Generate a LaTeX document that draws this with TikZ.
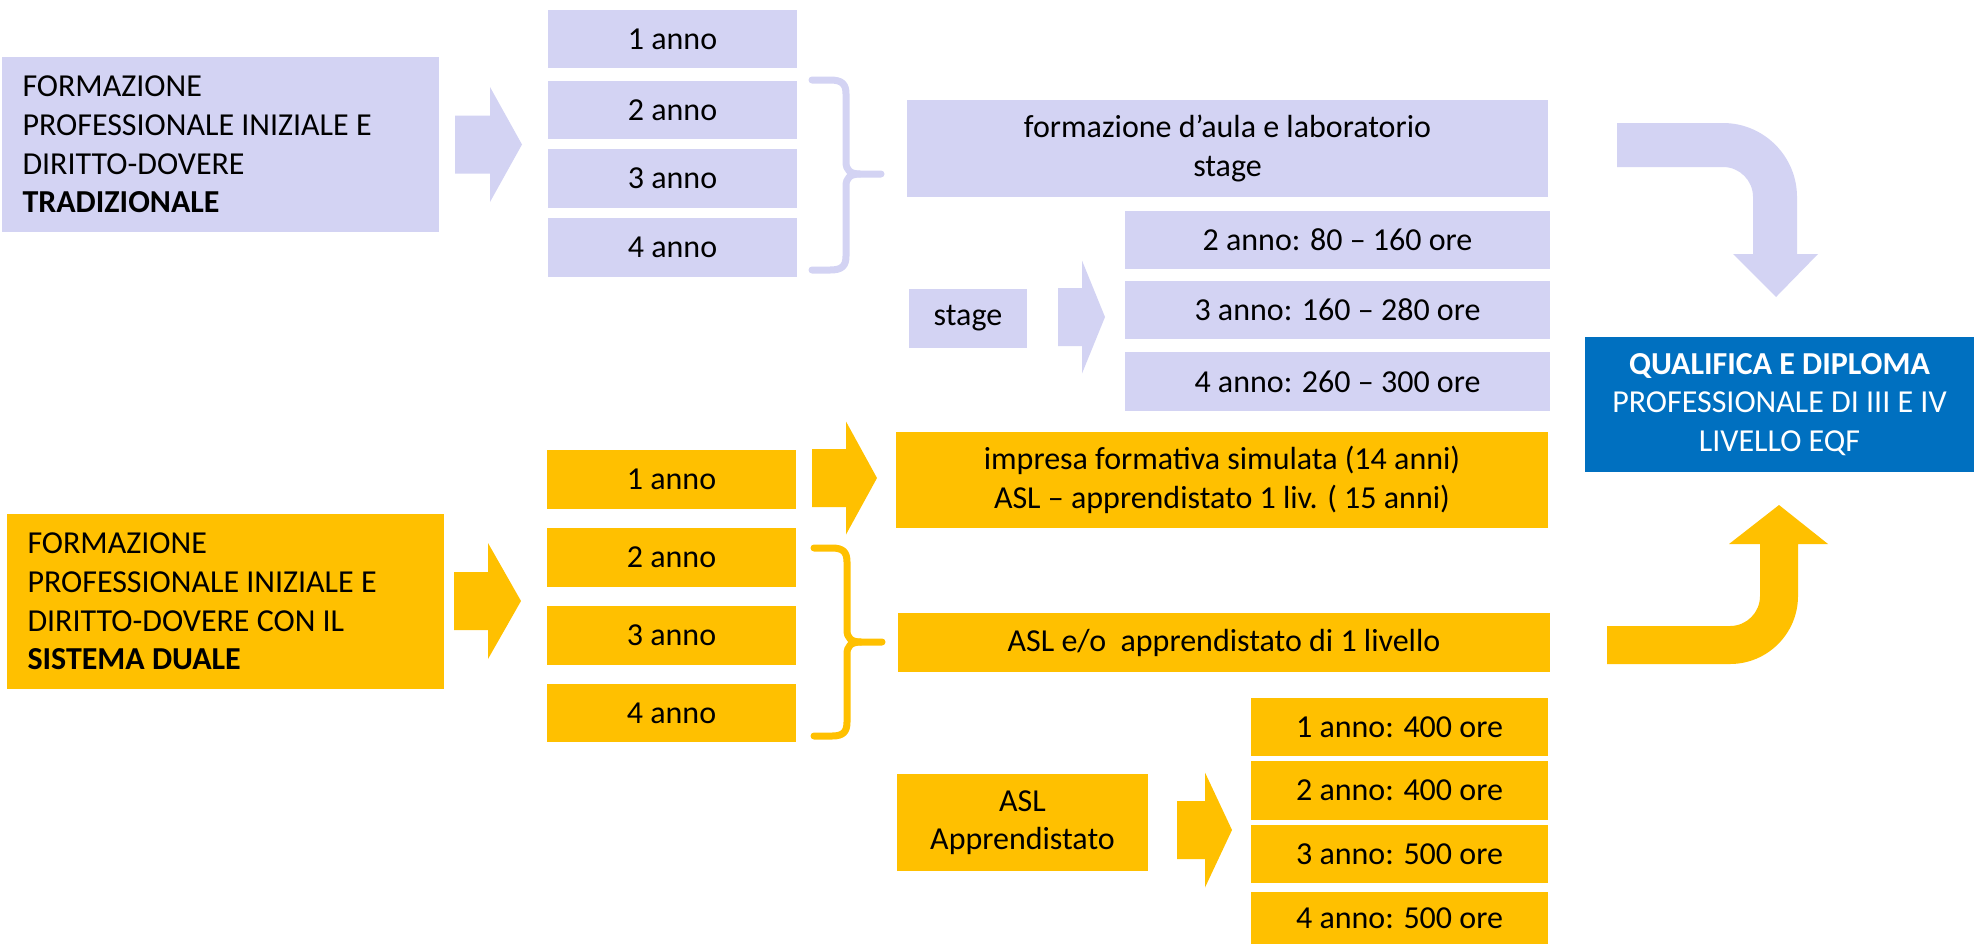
\documentclass[tikz,border=0pt]{standalone}
\usepackage{fontspec}
\setmainfont{Carlito}
\definecolor{lav}{HTML}{D3D3F3}
\definecolor{gold}{HTML}{FFC000}
\definecolor{azure}{HTML}{0070C0}
\tikzset{
  every node/.style={font=\fontsize{16}{19.3}\selectfont},
  box/.style={rectangle, inner sep=0pt, align=center, text=black},
  pbox/.style={box, fill=lav},
  ybox/.style={box, fill=gold},
  qbox/.style={box, fill=azure, text=white},
  leftbox/.style={align=flush left, text width=198pt, inner xsep=10pt},
  bracepath/.style={line width=3.5pt, line cap=round, line join=round},
}
\newcommand\bx[7]{\node[#6, minimum width={(#4-#2)*0.5pt}, minimum height={(#5-#3)*0.5pt}] (#1) at ({(#2+#4)/2},{(#3+#5)/2}) {#7};}
\newcommand\barrow[7]{\fill[#7] (#1,{#4-#5}) -- (#2,{#4-#5}) -- (#2,{#4-#6}) -- (#3,#4) -- (#2,{#4+#6}) -- (#2,{#4+#5}) -- (#1,{#4+#5}) -- cycle;}
\begin{document}
\begin{tikzpicture}[x=0.5pt, y=-0.5pt]
\useasboundingbox (0,0) rectangle (1974,944);
% ---------- traditional (lavender) ----------
\bx{ptrad}{2}{57}{439}{232}{pbox,leftbox}{FORMAZIONE\\PROFESSIONALE INIZIALE E\\DIRITTO-DOVERE\\\textbf{TRADIZIONALE}}
\barrow{455}{490}{522}{144.5}{29}{57.5}{lav}
\bx{pa1}{548}{10}{797}{68}{pbox}{1 anno}
\bx{pa2}{548}{81}{797}{139}{pbox}{2 anno}
\bx{pa3}{548}{149}{797}{208}{pbox}{3 anno}
\bx{pa4}{548}{218}{797}{277}{pbox}{4 anno}
\draw[lav, bracepath] (812,80) -- (830,80) .. controls (842,80) and (846,84) .. (846,94) -- (846,162)
  .. controls (846,170) and (850,174) .. (860,174) -- (881,174);
\draw[lav, bracepath] (860,174) .. controls (850,174) and (846,178) .. (846,186) -- (846,256)
  .. controls (846,266) and (842,270) .. (830,270) -- (812,270);
\bx{paula}{907}{100}{1548}{197}{pbox}{formazione d’aula e laboratorio\\stage}
\bx{pstage}{909}{289}{1027}{348}{pbox}{stage}
\barrow{1058}{1082}{1105}{317}{29}{56.5}{lav}
\bx{ps2}{1125}{211}{1550}{269}{pbox}{2 anno: 80 – 160 ore}
\bx{ps3}{1125}{281}{1550}{339}{pbox}{3 anno: 160 – 280 ore}
\bx{ps4}{1125}{352}{1550}{411}{pbox}{4 anno: 260 – 300 ore}
\fill[lav] (1617,123) -- (1723,123) .. controls (1763.8,123) and (1797,156.2) .. (1797,197)
  -- (1797,254) -- (1818,254) -- (1776,297) -- (1733,254) -- (1753,254) -- (1753,197)
  .. controls (1753,180.4) and (1739.6,167) .. (1723,167) -- (1617,167) -- cycle;
% ---------- result ----------
\bx{qual}{1585}{337}{1974}{472}{qbox}{\textbf{QUALIFICA E DIPLOMA}\\PROFESSIONALE DI III E IV\\LIVELLO EQF}
% ---------- dual system (gold) ----------
\bx{ydual}{7}{514}{444}{689}{ybox,leftbox}{FORMAZIONE\\PROFESSIONALE INIZIALE E\\DIRITTO-DOVERE CON IL\\\textbf{SISTEMA DUALE}}
\barrow{454}{488}{521}{601}{29}{58}{gold}
\bx{ya1}{547}{450}{796}{509}{ybox}{1 anno}
\bx{ya2}{547}{528}{796}{587}{ybox}{2 anno}
\bx{ya3}{547}{606}{796}{665}{ybox}{3 anno}
\bx{ya4}{547}{684}{796}{742}{ybox}{4 anno}
\barrow{812}{846}{877}{478}{29}{56.5}{gold}
\bx{yimp}{896}{432}{1548}{528}{ybox}{impresa formativa simulata (14 anni)\\ASL – apprendistato 1 liv. ( 15 anni)}
\draw[gold, bracepath] (814,548) -- (832,548) .. controls (843,548) and (847,552) .. (847,562) -- (847,630)
  .. controls (847,638) and (851,642) .. (861,642) -- (882,642);
\draw[gold, bracepath] (861,642) .. controls (851,642) and (847,646) .. (847,654) -- (847,722)
  .. controls (847,732) and (843,736) .. (832,736) -- (814,736);
\bx{yasl}{898}{613}{1550}{672}{ybox}{ASL e/o\ \ apprendistato di 1 livello}
\fill[gold] (1607,626) -- (1730,626) .. controls (1746.6,626) and (1760,612.6) .. (1760,596)
  -- (1760,544) -- (1729,544) -- (1779,505) -- (1828,544) -- (1798,544) -- (1798,596)
  .. controls (1798,633.5) and (1767.5,664) .. (1730,664) -- (1607,664) -- cycle;
\bx{yapp}{897}{774}{1148}{871}{ybox}{ASL\\Apprendistato}
\barrow{1177}{1205}{1232}{830}{29}{57.5}{gold}
\bx{yo1}{1251}{698}{1548}{756}{ybox}{1 anno: 400 ore}
\bx{yo2}{1251}{761}{1548}{820}{ybox}{2 anno: 400 ore}
\bx{yo3}{1251}{825}{1548}{883}{ybox}{3 anno: 500 ore}
\bx{yo4}{1251}{892}{1548}{944}{ybox}{4 anno: 500 ore}
\end{tikzpicture}
\end{document}
